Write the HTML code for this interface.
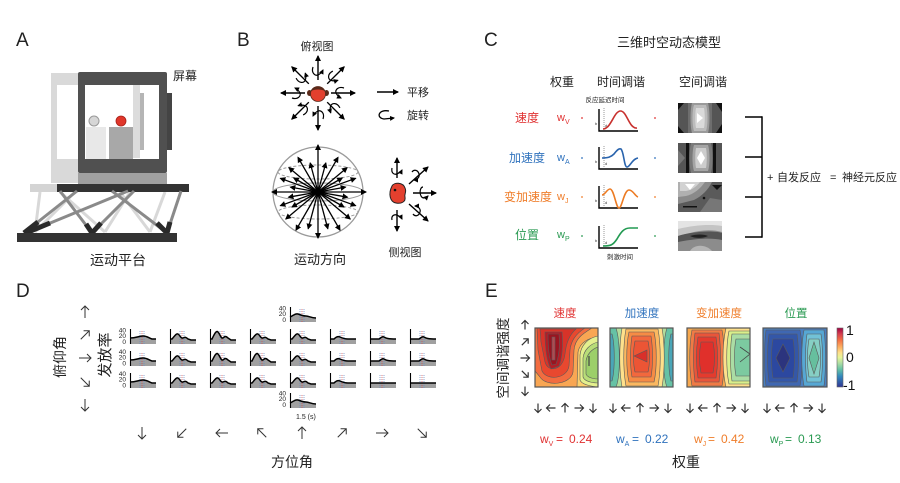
<!DOCTYPE html>
<html><head><meta charset="utf-8">
<style>
html,body{margin:0;padding:0;background:#fff;}
svg{display:block;}
text{font-family:"Liberation Sans","Noto Sans CJK SC",sans-serif;}
</style></head>
<body>
<svg width="900" height="483" viewBox="0 0 900 483" xmlns="http://www.w3.org/2000/svg">
<defs>
  <marker id="ah" markerWidth="6" markerHeight="6" refX="5" refY="3" orient="auto" markerUnits="userSpaceOnUse"><path d="M0,0 L6,3 L0,6 Z" fill="#000"/></marker>
  <marker id="ah2" markerWidth="5" markerHeight="5" refX="4" refY="2.5" orient="auto" markerUnits="userSpaceOnUse"><path d="M0,0 L5,2.5 L0,5 Z" fill="#000"/></marker>
  <g id="ar"><path d="M0 6 V-6 M-4 -2 L0 -6 L4 -2" fill="none" stroke="#333" stroke-width="1"/></g>
  <g id="ar2"><path d="M0 4.5 V-4.5 M-3.5 -1 L0 -4.5 L3.5 -1" fill="none" stroke="#333" stroke-width="1.2"/></g>
  <g id="dsh">
    <line x1="10" y1="2" x2="10" y2="15" stroke="#5b86c6" stroke-width="0.7" stroke-dasharray="1 1"/>
    <line x1="12" y1="2" x2="12" y2="15" stroke="#d04040" stroke-width="0.7" stroke-dasharray="1 1"/>
    <line x1="14" y1="2" x2="14" y2="15" stroke="#5b86c6" stroke-width="0.7" stroke-dasharray="1 1"/>
  </g>
  <g id="pf"><path d="M0 9 C6 9 9 7 13 7 C17 7 19 9 22 10 L26 10 L26 15 L0 15 Z" fill="#a0a0a0"/><use href="#dsh"/><path d="M0 9 C6 9 9 7 13 7 C17 7 19 9 22 10 L26 10" fill="none" stroke="#000" stroke-width="1.5"/><line x1="0.5" y1="0" x2="0.5" y2="15" stroke="#000" stroke-width="1.1"/></g>
  <g id="pm"><path d="M0 10 C3 9 5 6 8 7 C11 8 13 9 16 9 C19 9 21 11 26 11 L26 15 L0 15 Z" fill="#a0a0a0"/><use href="#dsh"/><path d="M0 10 C3 9 5 6 8 7 C11 8 13 9 16 9 C19 9 21 11 26 11" fill="none" stroke="#000" stroke-width="1.5"/><line x1="0.5" y1="0" x2="0.5" y2="15" stroke="#000" stroke-width="1.1"/></g>
  <g id="ps"><path d="M0 10 L2 10 C4 8 6 4 8 5 C10 6 11 10 13 9 C15 8 16 8 18 10 L21 11 L26 11 L26 15 L0 15 Z" fill="#a0a0a0"/><use href="#dsh"/><path d="M0 10 L2 10 C4 8 6 4 8 5 C10 6 11 10 13 9 C15 8 16 8 18 10 L21 11 L26 11" fill="none" stroke="#000" stroke-width="1.5"/><line x1="0.5" y1="0" x2="0.5" y2="15" stroke="#000" stroke-width="1.1"/></g>
  <g id="pb"><path d="M0 10 L2 10 C4 6 6 1 8 3 C10 5 11 10 13 9 C15 7 16 7 18 9 L21 11 L26 11 L26 15 L0 15 Z" fill="#a0a0a0"/><use href="#dsh"/><path d="M0 10 L2 10 C4 6 6 1 8 3 C10 5 11 10 13 9 C15 7 16 7 18 9 L21 11 L26 11" fill="none" stroke="#000" stroke-width="1.5"/><line x1="0.5" y1="0" x2="0.5" y2="15" stroke="#000" stroke-width="1.1"/></g>
  <g id="pe"><path d="M0 10 L4 10 C6 8 8 7 10 8 C12 9 14 10 18 10 L26 10 L26 15 L0 15 Z" fill="#a0a0a0"/><use href="#dsh"/><path d="M0 10 L4 10 C6 8 8 7 10 8 C12 9 14 10 18 10 L26 10" fill="none" stroke="#000" stroke-width="1.5"/><line x1="0.5" y1="0" x2="0.5" y2="15" stroke="#000" stroke-width="1.1"/></g>
  <g id="pmid"><path d="M0 10 L9 10 C11 9 12 7 14 8 C16 9 17 10 26 10 L26 15 L0 15 Z" fill="#a0a0a0"/><use href="#dsh"/><path d="M0 10 L9 10 C11 9 12 7 14 8 C16 9 17 10 26 10" fill="none" stroke="#000" stroke-width="1.5"/><line x1="0.5" y1="0" x2="0.5" y2="15" stroke="#000" stroke-width="1.1"/></g>
  <g id="pl"><path d="M0 10 L26 10 L26 15 L0 15 Z" fill="#a0a0a0"/><use href="#dsh"/><path d="M0 10 L26 10" fill="none" stroke="#000" stroke-width="1.5"/><line x1="0.5" y1="0" x2="0.5" y2="15" stroke="#000" stroke-width="1.1"/></g>
  <g id="tv"><line x1="318" y1="80" x2="318" y2="56" stroke="#000" stroke-width="1.4" marker-end="url(#ah)"/><path d="M313 67 C311 73 315 76 318 75 C320 74 322 72 323 70" fill="none" stroke="#000" stroke-width="1.2" marker-end="url(#ah2)"/></g>
  <linearGradient id="cb" x1="0" y1="0" x2="0" y2="1">
    <stop offset="0" stop-color="#9e0142"/><stop offset="0.1" stop-color="#d53e4f"/><stop offset="0.2" stop-color="#f46d43"/><stop offset="0.32" stop-color="#fdae61"/><stop offset="0.42" stop-color="#fee08b"/><stop offset="0.5" stop-color="#e6f598"/><stop offset="0.6" stop-color="#abdda4"/><stop offset="0.7" stop-color="#66c2a5"/><stop offset="0.82" stop-color="#3288bd"/><stop offset="1" stop-color="#313695"/>
  </linearGradient>
  <clipPath id="c1"><rect x="535" y="328" width="63" height="59"/></clipPath>
  <clipPath id="c2"><rect x="610" y="328" width="63" height="59"/></clipPath>
  <clipPath id="c3"><rect x="687" y="328" width="63" height="59"/></clipPath>
  <clipPath id="c4"><rect x="763" y="328" width="64" height="59"/></clipPath>
  <clipPath id="g1"><rect x="678" y="103" width="44" height="30"/></clipPath>
  <clipPath id="g2"><rect x="678" y="143" width="44" height="30"/></clipPath>
  <clipPath id="g3"><rect x="678" y="182" width="44" height="30"/></clipPath>
  <clipPath id="g4"><rect x="678" y="221" width="44" height="30"/></clipPath>
</defs>

<!-- ============ Panel A ============ -->
<text x="16" y="46" font-size="19" fill="#222">A</text>
<rect x="51" y="73" width="92" height="110" fill="#d9d9d9"/>
<rect x="57" y="85" width="30" height="74" fill="#fff"/>
<rect x="78" y="72" width="89" height="101" rx="2" fill="#505050"/>
<rect x="85" y="85" width="74" height="74" fill="#fff"/>
<rect x="133" y="85" width="7" height="73" fill="#dcdcdc"/>
<rect x="140" y="93" width="4" height="57" fill="#b5b5b5"/>
<rect x="86" y="127" width="20" height="32" fill="#e8e8e8"/>
<rect x="109" y="127" width="24" height="32" fill="#a8a8a8"/>
<circle cx="94" cy="121" r="5" fill="#d6d6d6" stroke="#9a9a9a" stroke-width="1"/>
<circle cx="121" cy="121" r="5" fill="#e0362a" stroke="#a82018" stroke-width="0.8"/>
<rect x="78" y="173" width="89" height="11" fill="#a0a0a0"/>
<rect x="167" y="93" width="5" height="57" fill="#444"/>
<g stroke="#d8d8d8" stroke-width="3" fill="none">
  <line x1="35" y1="232" x2="40" y2="192"/>
  <line x1="35" y1="232" x2="75" y2="192"/>
  <line x1="105" y1="232" x2="60" y2="192"/>
  <line x1="105" y1="232" x2="130" y2="192"/>
  <line x1="150" y1="232" x2="120" y2="192"/>
  <line x1="150" y1="232" x2="165" y2="192"/>
</g>
<rect x="30" y="184" width="27" height="8" fill="#d4d4d4"/>
<rect x="57" y="184" width="132" height="8" fill="#333"/>
<g stroke="#8a8a8a" stroke-width="3" fill="none">
  <line x1="24" y1="233" x2="77" y2="191"/>
  <line x1="26" y1="233" x2="128" y2="191"/>
  <line x1="92" y1="233" x2="60" y2="191"/>
  <line x1="92" y1="233" x2="134" y2="191"/>
  <line x1="167" y1="233" x2="112" y2="191"/>
  <line x1="167" y1="233" x2="181" y2="191"/>
</g>
<g stroke="#2a2a2a" stroke-width="5" fill="none">
  <line x1="24" y1="233" x2="38" y2="222"/>
  <line x1="26" y1="233" x2="50" y2="223"/>
  <line x1="92" y1="233" x2="86" y2="224"/>
  <line x1="92" y1="233" x2="101" y2="223"/>
  <line x1="167" y1="233" x2="157" y2="223"/>
  <line x1="167" y1="233" x2="170" y2="222"/>
</g>
<rect x="17" y="233" width="160" height="9" fill="#333"/>
<text x="173" y="80" font-size="12" fill="#222">屏幕</text>
<text x="118" y="265" font-size="14" fill="#222" text-anchor="middle">运动平台</text>

<!-- ============ Panel B ============ -->
<text x="237" y="46" font-size="19" fill="#222">B</text>
<text x="317" y="50" font-size="11" fill="#222" text-anchor="middle">俯视图</text>
<use href="#tv" transform="rotate(0 318 93)"/>
<use href="#tv" transform="rotate(45 318 93)"/>
<use href="#tv" transform="rotate(90 318 93)"/>
<use href="#tv" transform="rotate(135 318 93)"/>
<use href="#tv" transform="rotate(180 318 93)"/>
<use href="#tv" transform="rotate(225 318 93)"/>
<use href="#tv" transform="rotate(270 318 93)"/>
<use href="#tv" transform="rotate(315 318 93)"/>
<ellipse cx="309.5" cy="93" rx="2.5" ry="3" fill="#5a2a1a"/>
<ellipse cx="326.5" cy="93" rx="2.5" ry="3" fill="#5a2a1a"/>
<circle cx="318" cy="94" r="7.5" fill="#e3402e" stroke="#5a2a1a" stroke-width="0.8"/>
<path d="M311 91 C313 85 323 85 325 91 C321 89 315 89 311 91 Z" fill="#5a2a1a"/>
<line x1="377" y1="92" x2="398" y2="92" stroke="#000" stroke-width="1.4" marker-end="url(#ah)"/>
<text x="407" y="96" font-size="11" fill="#222">平移</text>
<path d="M389 111 C378 109 376 118 384 119 L394 118" fill="none" stroke="#000" stroke-width="1.3" marker-end="url(#ah2)"/>
<text x="407" y="119" font-size="11" fill="#222">旋转</text>
<circle cx="318" cy="192" r="45" fill="none" stroke="#9a9a9a" stroke-width="1.3"/>
<ellipse cx="318" cy="172" rx="40" ry="7" fill="none" stroke="#9a9a9a" stroke-width="1" stroke-dasharray="3 2"/>
<ellipse cx="318" cy="192" rx="45" ry="9" fill="none" stroke="#9a9a9a" stroke-width="1"/>
<ellipse cx="318" cy="212" rx="40" ry="7" fill="none" stroke="#9a9a9a" stroke-width="1" stroke-dasharray="3 2"/>
<g stroke="#000" stroke-width="1.3" marker-end="url(#ah)">
  <line x1="318" y1="192" x2="366" y2="192"/>
  <line x1="318" y1="192" x2="272" y2="192"/>
  <line x1="318" y1="192" x2="318" y2="145"/>
  <line x1="318" y1="192" x2="318" y2="238"/>
  <line x1="318" y1="192" x2="355.6" y2="178.3"/>
  <line x1="318" y1="192" x2="280.4" y2="178.3"/>
  <line x1="318" y1="192" x2="280.4" y2="205.7"/>
  <line x1="318" y1="192" x2="355.6" y2="205.7"/>
  <line x1="318" y1="192" x2="347.1" y2="167.6"/>
  <line x1="318" y1="192" x2="288.9" y2="167.6"/>
  <line x1="318" y1="192" x2="285.8" y2="219"/>
  <line x1="318" y1="192" x2="350.2" y2="219"/>
  <line x1="318" y1="192" x2="338" y2="157.4"/>
  <line x1="318" y1="192" x2="298" y2="157.4"/>
  <line x1="318" y1="192" x2="296" y2="230.1"/>
  <line x1="318" y1="192" x2="340" y2="230.1"/>
  <line x1="318" y1="192" x2="325.8" y2="163"/>
  <line x1="318" y1="192" x2="310.2" y2="163"/>
  <line x1="318" y1="192" x2="308.2" y2="228.7"/>
  <line x1="318" y1="192" x2="327.8" y2="228.7"/>
  <line x1="318" y1="192" x2="345.6" y2="187.1"/>
  <line x1="318" y1="192" x2="290.4" y2="187.1"/>
  <line x1="318" y1="192" x2="288.5" y2="197.2"/>
  <line x1="318" y1="192" x2="347.5" y2="197.2"/>
  <line x1="318" y1="192" x2="342.2" y2="178"/>
  <line x1="318" y1="192" x2="293.8" y2="178"/>
  <line x1="318" y1="192" x2="292" y2="207"/>
  <line x1="318" y1="192" x2="344" y2="207"/>
</g>
<text x="320" y="264" font-size="13" fill="#222" text-anchor="middle">运动方向</text>
<g stroke="#000" stroke-width="1.4" fill="none">
  <line x1="397" y1="178" x2="397" y2="158" marker-end="url(#ah)"/>
  <path d="M392 168 C391 173 394 175 397 174 C399 173 401 172 402 170" stroke-width="1.2" marker-end="url(#ah2)"/>
  <line x1="409" y1="184" x2="428" y2="167" marker-end="url(#ah)"/>
  <path d="M412 172 C414 169 418 170 419 174 C420 177 417 180 414 180" stroke-width="1.2" marker-end="url(#ah2)"/>
  <line x1="413" y1="193" x2="436" y2="193" marker-end="url(#ah)"/>
  <path d="M423 187 C419 187 419 198 424 198 C426 198 427 197 428 196" stroke-width="1.2" marker-end="url(#ah2)"/>
  <line x1="409" y1="204" x2="428" y2="221" marker-end="url(#ah)"/>
  <path d="M413 214 C415 217 419 216 420 212 C421 209 418 206 415 206" stroke-width="1.2" marker-end="url(#ah2)"/>
  <line x1="397" y1="210" x2="397" y2="231" marker-end="url(#ah)"/>
  <path d="M392 220 C391 216 394 214 397 215 C399 216 401 217 402 219" stroke-width="1.2" marker-end="url(#ah2)"/>
</g>
<path d="M392 186 C394 182 403 182 405 188 C407 192 404 194 405 197 C406 202 401 204 396 203 C390 202 388 194 392 186 Z" fill="#e3402e" stroke="#222" stroke-width="1"/>
<circle cx="395" cy="190" r="1.3" fill="#111"/>
<text x="405" y="256" font-size="11" fill="#222" text-anchor="middle">侧视图</text>

<!-- ============ Panel C ============ -->
<text x="484" y="46" font-size="19" fill="#222">C</text>
<text x="617" y="47" font-size="13" fill="#222">三维时空动态模型</text>
<text x="562" y="86" font-size="12" fill="#222" text-anchor="middle">权重</text>
<text x="621" y="86" font-size="12" fill="#222" text-anchor="middle">时间调谐</text>
<text x="703" y="86" font-size="12" fill="#222" text-anchor="middle">空间调谐</text>
<text x="605" y="102" font-size="6.5" fill="#222" text-anchor="middle">反应延迟时间</text>
<text x="620" y="259" font-size="6.5" fill="#222" text-anchor="middle">刺激时间</text>

<text x="527" y="122" font-size="12" fill="#e03232" text-anchor="middle">速度</text>
<text x="527" y="162" font-size="12" fill="#2f72bd" text-anchor="middle">加速度</text>
<text x="528" y="201" font-size="12" fill="#ef7d2a" text-anchor="middle">变加速度</text>
<text x="527" y="239" font-size="12" fill="#2a9a52" text-anchor="middle">位置</text>

<text x="557" y="121" font-size="11" fill="#e03232">w<tspan font-size="7" dy="3">V</tspan></text>
<text x="557" y="161" font-size="11" fill="#2f72bd">w<tspan font-size="7" dy="3">A</tspan></text>
<text x="557" y="200" font-size="11" fill="#ef7d2a">w<tspan font-size="7" dy="3">J</tspan></text>
<text x="557" y="238" font-size="11" fill="#2a9a52">w<tspan font-size="7" dy="3">P</tspan></text>

<circle cx="582" cy="118" r="0.9" fill="#e03232"/><circle cx="655" cy="118" r="0.9" fill="#e03232"/>
<circle cx="582" cy="158" r="0.9" fill="#2f72bd"/><circle cx="655" cy="158" r="0.9" fill="#2f72bd"/>
<circle cx="582" cy="197" r="0.9" fill="#ef7d2a"/><circle cx="655" cy="197" r="0.9" fill="#ef7d2a"/>
<circle cx="582" cy="236" r="0.9" fill="#2a9a52"/><circle cx="655" cy="236" r="0.9" fill="#2a9a52"/>

<g stroke="#000" stroke-width="1.4" fill="none">
  <path d="M599 109 V131 H638"/>
  <path d="M599 147 V169 H638"/>
  <path d="M599 186 V208 H638"/>
  <path d="M599 226 V248 H638"/>
</g>
<g stroke="#555" stroke-width="0.6" stroke-dasharray="1 1">
  <line x1="604" y1="108" x2="604" y2="130"/>
  <line x1="604" y1="146" x2="604" y2="168"/>
  <line x1="604" y1="185" x2="604" y2="207"/>
  <line x1="604" y1="225" x2="604" y2="247"/>
</g>
<g font-size="4" fill="#333"><text x="595" y="125">b</text><text x="605" y="127">d</text><text x="595" y="163">b</text><text x="605" y="165">d</text><text x="595" y="202">b</text><text x="605" y="204">d</text><text x="595" y="242">b</text><text x="605" y="244">d</text></g>
<path d="M603 129 C611 129 614 111 620.5 111 C627 111 629 129 637 128" fill="none" stroke="#c8312e" stroke-width="1.6"/>
<path d="M602 158 C608 158 611 157 614 154 C617 150 619 148 621 149 C624 152 624 167 627 167 C630 167 632 159 638 158" fill="none" stroke="#2a64ad" stroke-width="1.6"/>
<path d="M602 195 C605 195 607 189 610 189 C614 189 616 208 619 208 C622 208 624 190 629 190 C633 190 635 196 638 197" fill="none" stroke="#ec7b23" stroke-width="1.6"/>
<path d="M603 246 C611 246 613 245 617 239 C621 232 624 228 630 228 L638 228" fill="none" stroke="#229a52" stroke-width="1.6"/>

<g clip-path="url(#g1)">
  <rect x="678" y="103" width="44" height="30" fill="#111"/>
  <rect x="678" y="103" width="10" height="30" fill="#555"/>
  <path d="M678 103 L684 103 L678 110 Z M678 133 L684 133 L678 126 Z" fill="#111"/>
  <rect x="712" y="103" width="10" height="30" fill="#555"/>
  <path d="M722 103 L716 103 L722 112 Z M722 133 L716 133 L722 124 Z" fill="#111"/>
  <rect x="688" y="103" width="24" height="30" fill="#6e6e6e"/>
  <path d="M692 103 H708 C710 110 710 126 708 133 H692 C690 126 690 110 692 103 Z" fill="#9a9a9a"/>
  <path d="M694 105 H706 C708 111 708 125 706 131 H694 C692 125 692 111 694 105 Z" fill="#bcbcbc"/>
  <path d="M696 108 H704 C705 113 705 123 704 128 H696 C695 123 695 113 696 108 Z" fill="#dadada"/>
  <path d="M697 113 L703 118 L697 123 Z" fill="#fff"/>
</g>
<g clip-path="url(#g2)">
  <rect x="678" y="143" width="44" height="30" fill="#555"/>
  <path d="M678 150 L685 158 L678 166 Z" fill="#777"/>
  <rect x="686" y="143" width="3" height="30" fill="#111"/>
  <rect x="713" y="143" width="3" height="30" fill="#111"/>
  <path d="M691 143 H711 C713 150 713 166 711 173 H691 C689 166 689 150 691 143 Z" fill="#7a7a7a"/>
  <path d="M694 145 H708 C710 151 710 165 708 171 H694 C692 165 692 151 694 145 Z" fill="#a5a5a5"/>
  <path d="M696 148 H706 C707 153 707 163 706 168 H696 C695 163 695 153 696 148 Z" fill="#cdcdcd"/>
  <path d="M701 151 L705 158 L701 165 L697 158 Z" fill="#fff"/>
</g>
<g clip-path="url(#g3)">
  <rect x="678" y="182" width="44" height="30" fill="#5a5a5a"/>
  <path d="M678 182 H712 C708 190 702 196 694 200 L678 204 Z" fill="#8a8a8a"/>
  <path d="M678 182 H705 C700 189 694 194 686 196 L678 197 Z" fill="#b0b0b0"/>
  <path d="M680 182 H700 C696 187 692 190 686 191 L680 191 Z" fill="#d2d2d2"/>
  <path d="M685 184 L695 184 L690 190 Z" fill="#fff"/>
  <path d="M700 212 L710 198 L722 200 V212 Z" fill="#777"/>
  <path d="M712 185 L722 185 L717 190 Z" fill="#111"/>
  <circle cx="704" cy="198" r="1.3" fill="#111"/>
  <rect x="683" y="206" width="14" height="1.5" fill="#111"/>
</g>
<g clip-path="url(#g4)">
  <rect x="678" y="221" width="44" height="30" fill="#8c8c8c"/>
  <path d="M678 221 H722 V232 C712 229 700 230 690 233 L678 236 Z" fill="#c4c4c4"/>
  <path d="M678 221 H722 V226 C710 224 695 225 678 229 Z" fill="#e4e4e4"/>
  <path d="M678 236 C690 232 712 230 722 233 V240 C712 238 700 238 678 242 Z" fill="#555"/>
  <path d="M690 236 C696 234 704 234 708 236 C704 238 696 239 690 236 Z" fill="#222"/>
  <path d="M690 251 C694 244 706 244 712 251 Z" fill="#b5b5b5"/>
</g>

<g stroke="#000" stroke-width="1.5" fill="none">
  <line x1="745" y1="117" x2="762" y2="117"/>
  <line x1="745" y1="157" x2="762" y2="157"/>
  <line x1="745" y1="197" x2="762" y2="197"/>
  <line x1="745" y1="237" x2="762" y2="237"/>
  <line x1="762" y1="116.3" x2="762" y2="237.7"/>
</g>
<text x="767" y="181" font-size="11" fill="#222">+</text>
<text x="777" y="181" font-size="11" fill="#222">自发反应</text>
<text x="830" y="181" font-size="11" fill="#222">=</text>
<text x="842" y="181" font-size="11" fill="#222">神经元反应</text>

<!-- ============ Panel D ============ -->
<text x="16" y="297" font-size="19" fill="#222">D</text>
<text transform="translate(65 357) rotate(-90)" font-size="14" fill="#222" text-anchor="middle">俯仰角</text>
<text transform="translate(110 355) rotate(-90)" font-size="15" fill="#222" text-anchor="middle">发放率</text>
<use href="#ar" transform="translate(85 312) rotate(0)"/>
<use href="#ar" transform="translate(85 335) rotate(45)"/>
<use href="#ar" transform="translate(85 358) rotate(90)"/>
<use href="#ar" transform="translate(85 382) rotate(135)"/>
<use href="#ar" transform="translate(85 405) rotate(180)"/>

<g font-size="6.5" fill="#222" text-anchor="end">
  <text x="126" y="332.5">40</text><text x="126" y="338">20</text><text x="126" y="344">0</text>
  <text x="126" y="354">40</text><text x="126" y="359.5">20</text><text x="126" y="365.5">0</text>
  <text x="126" y="376">40</text><text x="126" y="381.5">20</text><text x="126" y="387.5">0</text>
  <text x="286" y="310.5">40</text><text x="286" y="316">20</text><text x="286" y="322">0</text>
  <text x="286" y="395.5">40</text><text x="286" y="401">20</text><text x="286" y="407">0</text>
</g>
<use href="#pf" x="130" y="329"/><use href="#pf" x="130" y="351"/><use href="#pf" x="130" y="373"/>
<use href="#ps" x="170" y="329"/><use href="#ps" x="170" y="351"/><use href="#ps" x="170" y="373"/>
<use href="#pb" x="210" y="329"/><use href="#pb" x="210" y="351"/><use href="#ps" x="210" y="373"/>
<use href="#ps" x="250" y="329"/><use href="#pb" x="250" y="351"/><use href="#ps" x="250" y="373"/>
<use href="#pm" x="290" y="307"/>
<use href="#ps" x="290" y="329"/><use href="#ps" x="290" y="351"/><use href="#ps" x="290" y="373"/>
<use href="#pm" x="290" y="393"/>
<use href="#pe" x="330" y="329"/><use href="#pe" x="330" y="351"/><use href="#pe" x="330" y="373"/>
<use href="#pmid" x="370" y="329"/><use href="#pmid" x="370" y="351"/><use href="#pl" x="370" y="373"/>
<use href="#pmid" x="410" y="329"/><use href="#pmid" x="410" y="351"/><use href="#pl" x="410" y="373"/>
<text x="296" y="419" font-size="7" fill="#222">1.5 (s)</text>

<use href="#ar" transform="translate(142 433) rotate(180)"/>
<use href="#ar" transform="translate(182 433) rotate(225)"/>
<use href="#ar" transform="translate(222 433) rotate(270)"/>
<use href="#ar" transform="translate(262 433) rotate(315)"/>
<use href="#ar" transform="translate(302 433) rotate(0)"/>
<use href="#ar" transform="translate(342 433) rotate(45)"/>
<use href="#ar" transform="translate(382 433) rotate(90)"/>
<use href="#ar" transform="translate(422 433) rotate(135)"/>
<text x="292" y="467" font-size="14" fill="#222" text-anchor="middle">方位角</text>

<!-- ============ Panel E ============ -->
<text x="485" y="297" font-size="19" fill="#222">E</text>
<text transform="translate(508 358) rotate(-90)" font-size="13.5" fill="#222" text-anchor="middle">空间调谐强度</text>
<use href="#ar2" transform="translate(525 325) rotate(0)"/>
<use href="#ar2" transform="translate(525 342) rotate(45)"/>
<use href="#ar2" transform="translate(525 358) rotate(90)"/>
<use href="#ar2" transform="translate(525 374) rotate(135)"/>
<use href="#ar2" transform="translate(525 391) rotate(180)"/>

<text x="565" y="317" font-size="11.5" fill="#e03232" text-anchor="middle">速度</text>
<text x="642" y="317" font-size="11.5" fill="#2f72bd" text-anchor="middle">加速度</text>
<text x="719" y="317" font-size="11.5" fill="#ef7d2a" text-anchor="middle">变加速度</text>
<text x="796" y="317" font-size="11.5" fill="#2a9a52" text-anchor="middle">位置</text>

<g clip-path="url(#c1)" stroke="#5a5a5a" stroke-width="0.6">
  <rect x="535" y="328" width="63" height="59" fill="#fdd06e"/>
  <path d="M535 328 H598 V338 C590 337 580 342 578 352 L577 387 H535 Z" fill="#f9a653"/>
  <path d="M535 328 H592 C584 333 575 338 574 350 L573 372 C571 385 546 387 540 377 L535 371 Z" fill="#f26c40"/>
  <path d="M537 328 H585 C577 333 571 340 570 350 L569 366 C567 379 547 381 542 371 L538 350 Z" fill="#e8482f"/>
  <path d="M540 329 H576 C569 335 566 344 565 354 C563 371 548 373 545 362 L541 342 Z" fill="#d83329"/>
  <path d="M545 332 H562 C563 345 562 358 559 366 L551 369 C547 362 545 350 545 332 Z" fill="#b31d26"/>
  <path d="M548 334 H559 C560 345 559 356 556 364 L552 365 C549 358 548 346 548 334 Z" fill="#9a1420"/>
  <path d="M552 337 H555 V360 H552 Z" fill="#b04a50"/>
  <path d="M598 336 C588 338 581 345 580 355 L580 380 C582 386 598 387 598 387 Z" fill="#e4f08e"/>
  <path d="M598 342 C590 344 584 350 583 358 L583 377 C585 383 598 383 598 383 Z" fill="#b8dd78"/>
  <path d="M598 347 C592 349 587 354 586 361 L586 374 C588 379 598 379 598 379 Z" fill="#9ccf6a"/>
  <path d="M589 356 V366" stroke="#444" stroke-width="1.2"/>
</g>
<rect x="535" y="328" width="63" height="59" fill="none" stroke="#555" stroke-width="1.2"/>

<g clip-path="url(#c2)" stroke="#5a5a5a" stroke-width="0.6">
  <rect x="610" y="328" width="63" height="59" fill="#b2dd9c"/>
  <path d="M610 328 H616 C620 340 621 375 616 387 H610 Z" fill="#66c2a5"/>
  <path d="M610 334 H612 C615 345 615 370 612 381 H610 Z" fill="#4aa6b8"/>
  <path d="M673 328 H667 C663 340 662 375 667 387 H673 Z" fill="#66c2a5"/>
  <path d="M673 334 H671 C668 345 668 370 671 381 H673 Z" fill="#4aa6b8"/>
  <path d="M622 328 H662 C665 345 665 370 662 387 H622 C619 370 619 345 622 328 Z" fill="#fee08b"/>
  <path d="M626 329 H658 C661 345 661 370 658 386 H626 C623 370 623 345 626 329 Z" fill="#fbb860"/>
  <path d="M629 332 H654 C657 345 657 370 654 382 H629 C626 370 626 345 629 332 Z" fill="#f68b45"/>
  <path d="M632 336 H651 C653 348 653 366 651 377 H632 C630 366 630 348 632 336 Z" fill="#f2683d"/>
  <path d="M635 341 H648 C650 350 650 364 648 372 H635 C633 364 633 350 635 341 Z" fill="#ec5535"/>
  <path d="M634 356 L647 350 L647 362 Z" fill="#d9302a"/>
</g>
<rect x="610" y="328" width="63" height="59" fill="none" stroke="#555" stroke-width="1.2"/>

<g clip-path="url(#c3)" stroke="#5a5a5a" stroke-width="0.6">
  <rect x="687" y="328" width="63" height="59" fill="#f7a84e"/>
  <path d="M692 330 H722 C725 345 725 370 722 386 H692 C689 370 689 345 692 330 Z" fill="#f07a45"/>
  <path d="M695 333 H719 C721 348 721 368 719 382 H695 C693 368 693 348 695 333 Z" fill="#e9553a"/>
  <path d="M698 337 H716 C718 350 718 365 716 378 H698 C696 365 696 350 698 337 Z" fill="#e43b2e"/>
  <path d="M701 342 H713 C715 352 715 363 713 373 H701 C699 363 699 352 701 342 Z" fill="#e0302b"/>
  <path d="M726 328 H750 V387 H726 C722 370 722 345 726 328 Z" fill="#fee08b"/>
  <path d="M729 331 H750 V384 H729 C726 370 726 345 729 331 Z" fill="#d9ef8b"/>
  <path d="M732 334 H750 V381 H732 C730 368 730 347 732 334 Z" fill="#abdda4"/>
  <path d="M736 339 H750 V376 H736 C734 366 734 349 736 339 Z" fill="#7ccaa0"/>
  <path d="M740 347 L750 354 L740 362" fill="none" stroke="#444" stroke-width="0.8"/>
</g>
<rect x="687" y="328" width="63" height="59" fill="none" stroke="#555" stroke-width="1.2"/>

<g clip-path="url(#c4)" stroke="#5a5a5a" stroke-width="0.6">
  <rect x="763" y="328" width="64" height="59" fill="#4a7fc0"/>
  <path d="M766 330 H800 C803 345 803 370 800 386 H766 C764 370 764 345 766 330 Z" fill="#3f67b2"/>
  <path d="M769 334 H797 C799 348 799 368 797 382 H769 C767 368 767 348 769 334 Z" fill="#3457a8"/>
  <path d="M773 339 H793 C795 350 795 366 793 378 H773 C771 366 771 350 773 339 Z" fill="#2c48a0"/>
  <path d="M783 344 L790 358 L783 372 L776 358 Z" fill="#2c347e"/>
  <path d="M804 330 H824 C826 345 826 370 824 386 H804 C801 370 801 345 804 330 Z" fill="#56a7d4"/>
  <path d="M807 334 H821 C823 348 823 368 821 382 H807 C805 368 805 348 807 334 Z" fill="#72c2d6"/>
  <path d="M809 339 H819 C821 350 821 366 819 377 H809 C807 366 807 350 809 339 Z" fill="#86cfc4"/>
  <path d="M814 342 L819 358 L814 374 L809 358 Z" fill="#66bf9e"/>
</g>
<rect x="763" y="328" width="64" height="59" fill="none" stroke="#555" stroke-width="1.2"/>

<rect x="837" y="328" width="6" height="59" fill="url(#cb)" stroke="#666" stroke-width="0.6"/>
<text x="846" y="335" font-size="14" fill="#111">1</text>
<text x="846" y="362" font-size="14" fill="#111">0</text>
<text x="843" y="390" font-size="14" fill="#111">-1</text>

<g>
<use href="#ar2" transform="translate(538 408) rotate(180)"/><use href="#ar2" transform="translate(551 408) rotate(270)"/><use href="#ar2" transform="translate(565 408) rotate(0)"/><use href="#ar2" transform="translate(579 408) rotate(90)"/><use href="#ar2" transform="translate(593 408) rotate(180)"/>
<use href="#ar2" transform="translate(613 408) rotate(180)"/><use href="#ar2" transform="translate(626 408) rotate(270)"/><use href="#ar2" transform="translate(640 408) rotate(0)"/><use href="#ar2" transform="translate(654 408) rotate(90)"/><use href="#ar2" transform="translate(668 408) rotate(180)"/>
<use href="#ar2" transform="translate(690 408) rotate(180)"/><use href="#ar2" transform="translate(703 408) rotate(270)"/><use href="#ar2" transform="translate(717 408) rotate(0)"/><use href="#ar2" transform="translate(731 408) rotate(90)"/><use href="#ar2" transform="translate(745 408) rotate(180)"/>
<use href="#ar2" transform="translate(767 408) rotate(180)"/><use href="#ar2" transform="translate(780 408) rotate(270)"/><use href="#ar2" transform="translate(794 408) rotate(0)"/><use href="#ar2" transform="translate(808 408) rotate(90)"/><use href="#ar2" transform="translate(822 408) rotate(180)"/>
</g>

<g font-size="12">
  <text x="540" y="443" fill="#e03232">w<tspan font-size="7" dy="3">V</tspan></text><text x="556" y="443" fill="#e03232">=</text><text x="569" y="443" fill="#e03232">0.24</text>
  <text x="616" y="443" fill="#2f72bd">w<tspan font-size="7" dy="3">A</tspan></text><text x="632" y="443" fill="#2f72bd">=</text><text x="645" y="443" fill="#2f72bd">0.22</text>
  <text x="694" y="443" fill="#ef7d2a">w<tspan font-size="7" dy="3">J</tspan></text><text x="708" y="443" fill="#ef7d2a">=</text><text x="721" y="443" fill="#ef7d2a">0.42</text>
  <text x="770" y="443" fill="#2a9a52">w<tspan font-size="7" dy="3">P</tspan></text><text x="785" y="443" fill="#2a9a52">=</text><text x="798" y="443" fill="#2a9a52">0.13</text>
</g>
<text x="672" y="467" font-size="14" fill="#222">权重</text>
</svg>
</body></html>
